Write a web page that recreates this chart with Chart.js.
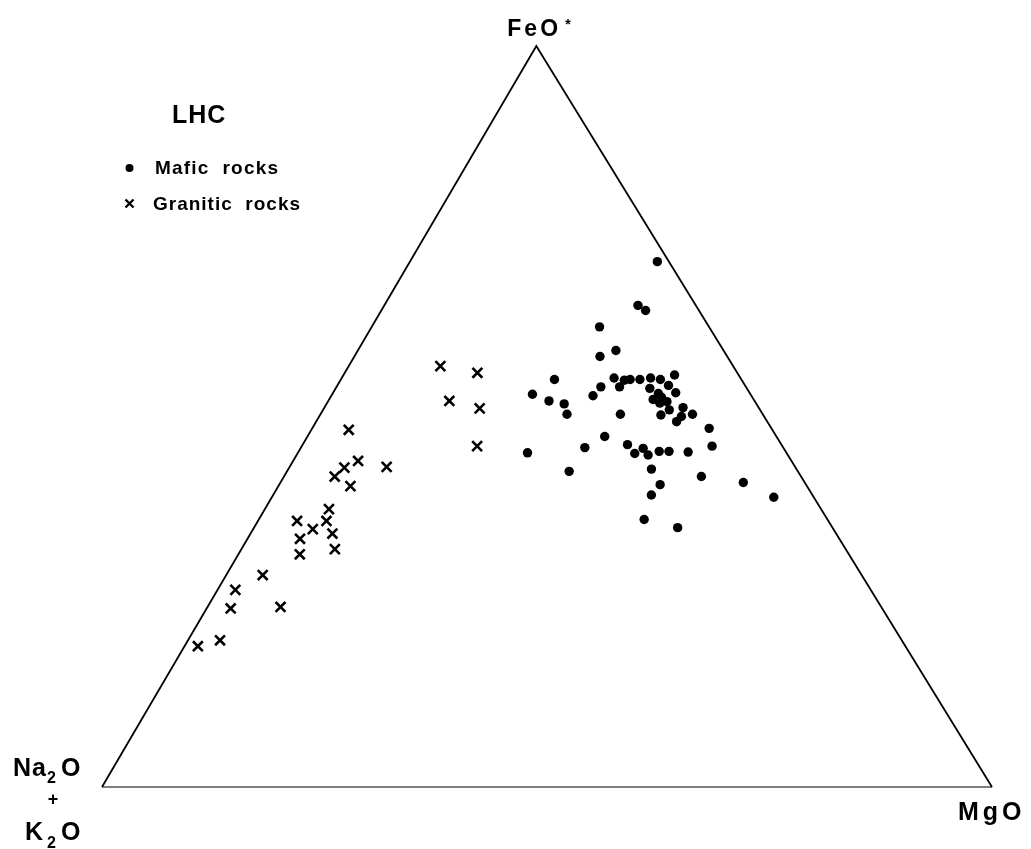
<!DOCTYPE html>
<html lang="en">
<head>
<meta charset="UTF-8">
<title>LHC - AFM diagram</title>
<style>
  html, body { margin: 0; padding: 0; background: #fff; overflow: hidden; }
  .wrap { width: 1031px; height: 849px; position: relative; }
</style>
</head>
<body>
<div class="wrap"><canvas id="afm"></canvas></div>

<script src="https://cdn.jsdelivr.net/npm/chart.js@4"></script>
<script>
// values, in % of the ternary (Na2O+K2O = 100 - FeO* - MgO)
const mafFeO = [70.9, 65.0, 64.3, 62.1, 58.9, 58.1, 55.0, 53.0, 52.1, 51.7,
                50.3, 52.8, 54.0, 55.2, 54.0, 54.9, 55.0, 55.0, 55.2, 55.0,
                55.6, 53.8, 54.2, 53.2, 53.1, 52.3, 52.6, 52.0, 51.8, 50.9,
                50.2, 51.2, 50.0, 49.3, 50.3, 50.3, 48.4, 46.0, 47.3, 45.8,
                46.2, 45.0, 45.7, 44.8, 45.3, 45.3, 45.2, 45.1, 42.6, 42.9,
                40.8, 39.4, 41.9, 41.1, 39.1, 36.1, 35.0];
const mafMgO = [27.8, 28.5, 29.7, 25.6, 29.0, 27.6, 24.0, 22.5, 24.8, 26.7,
                27.7, 29.4, 29.7, 30.6, 31.8, 31.9, 32.5, 33.6, 34.7, 35.9,
                37.2, 35.3, 37.2, 38.5, 36.6, 36.4, 37.2, 38.1, 37.4, 38.9,
                38.3, 40.3, 40.7, 40.5, 41.8, 33.7, 44.6, 46.1, 33.4, 31.9,
                36.5, 37.9, 38.5, 39.5, 40.5, 41.6, 43.8, 25.8, 31.7, 40.8,
                42.8, 42.5, 46.9, 52.0, 56.4, 43.3, 47.6];

const graFeO = [56.8, 55.9, 52.1, 51.1, 46.0, 48.2, 44.0, 43.1, 43.2, 41.9,
                40.6, 37.5, 35.9, 35.9, 34.8, 33.5, 34.2, 32.1, 31.4, 28.6,
                26.6, 24.1, 24.3, 19.8, 19.0];
const graMgO = [10.3, 14.9, 13.6, 17.5, 19.7, 4.2, 7.3, 6.2, 10.9, 5.7,
                8.1, 7.2, 4.4, 7.7, 6.7, 5.9, 9.2, 10.5, 6.9, 4.1,
                2.0, 2.7, 8.2, 3.6, 1.5];

// the FeO* apex in the original sits a little left of the base midpoint
const APEX_X = 48.8;

function toXY(feo, mgo) {
    return { x: mgo + feo * APEX_X / 100, y: feo };
}

const vAlk = toXY(0, 0);
const vFeO = toXY(100, 0);
const vMgO = toXY(0, 100);

const mafic = mafFeO.map((f, i) => toXY(f, mafMgO[i]));
const granitic = graFeO.map((f, i) => toXY(f, graMgO[i]));

const FONT = '"Liberation Sans", Arial, sans-serif';

// vertex labels, title and legend
const textPlugin = {
    id: 'afmText',
    afterDraw(chart) {
        const c = chart.ctx;
        const sx = chart.scales.x, sy = chart.scales.y;
        const px = v => ({ x: sx.getPixelForValue(v.x), y: sy.getPixelForValue(v.y) });
        const top = px(vFeO), left = px(vAlk), right = px(vMgO);

        c.save();
        c.fillStyle = '#000';
        c.strokeStyle = '#000';
        c.textBaseline = 'alphabetic';
        c.textAlign = 'left';
        const txt = (s, x, y, size, sp) => {
            c.font = 'bold ' + size + 'px ' + FONT;
            c.letterSpacing = (sp || 0) + 'px';
            c.fillText(s, x, y);
        };

        // FeO*
        txt('FeO', top.x - 29, top.y - 10, 23, 3);
        txt('*', top.x + 29, top.y - 17, 14, 0);

        // Na2O + K2O
        txt('Na', left.x - 89, left.y - 11, 25, 1);
        txt('2', left.x - 55, left.y - 4, 16, 0);
        txt('O', left.x - 41, left.y - 11, 25, 0);
        c.textAlign = 'center';
        c.textBaseline = 'middle';
        txt('+', left.x - 49, left.y + 13, 18, 0);
        c.textAlign = 'left';
        c.textBaseline = 'alphabetic';
        txt('K', left.x - 77, left.y + 53, 25, 0);
        txt('2', left.x - 55, left.y + 61, 16, 0);
        txt('O', left.x - 41, left.y + 53, 25, 0);

        // MgO
        txt('MgO', right.x - 34, right.y + 33, 25, 4);

        // title + legend
        txt('LHC', 172, 123, 25, 1);
        txt('Mafic  rocks', 155, 174, 19, 1.2);
        txt('Granitic  rocks', 153, 210, 19, 1);

        c.beginPath();
        c.arc(129.5, 168, 4, 0, Math.PI * 2);
        c.fill();

        c.lineWidth = 2.4;
        c.beginPath();
        c.moveTo(125.5, 199.5); c.lineTo(133.5, 207.5);
        c.moveTo(133.5, 199.5); c.lineTo(125.5, 207.5);
        c.stroke();
        c.restore();
    }
};

new Chart(document.getElementById('afm'), {
    type: 'scatter',
    data: {
        datasets: [
            {
                label: 'sides',
                data: [vAlk, vFeO, vMgO],
                showLine: true,
                borderColor: '#000',
                borderWidth: 1.8,
                pointRadius: 0,
                clip: false
            },
            {
                label: 'base',
                data: [vAlk, vMgO],
                showLine: true,
                borderColor: '#555',
                borderWidth: 1.4,
                pointRadius: 0,
                clip: false
            },
            {
                label: 'Mafic rocks',
                data: mafic,
                pointStyle: 'circle',
                pointRadius: 4.7,
                pointBorderWidth: 0,
                backgroundColor: '#000',
                borderColor: '#000',
                clip: false
            },
            {
                label: 'Granitic rocks',
                data: granitic,
                pointStyle: 'crossRot',
                pointRadius: 7,
                pointBorderWidth: 2.6,
                borderColor: '#000',
                backgroundColor: '#000',
                clip: false
            }
        ]
    },
    options: {
        responsive: true,
        maintainAspectRatio: false,
        animation: false,
        layout: { padding: { left: 102, right: 39, top: 46, bottom: 62 } },
        scales: {
            x: { type: 'linear', min: 0, max: 100, display: false },
            y: { type: 'linear', min: 0, max: 100, display: false }
        },
        plugins: {
            legend: { display: false },
            tooltip: { enabled: false }
        }
    },
    plugins: [textPlugin]
});
</script>
</body>
</html>
